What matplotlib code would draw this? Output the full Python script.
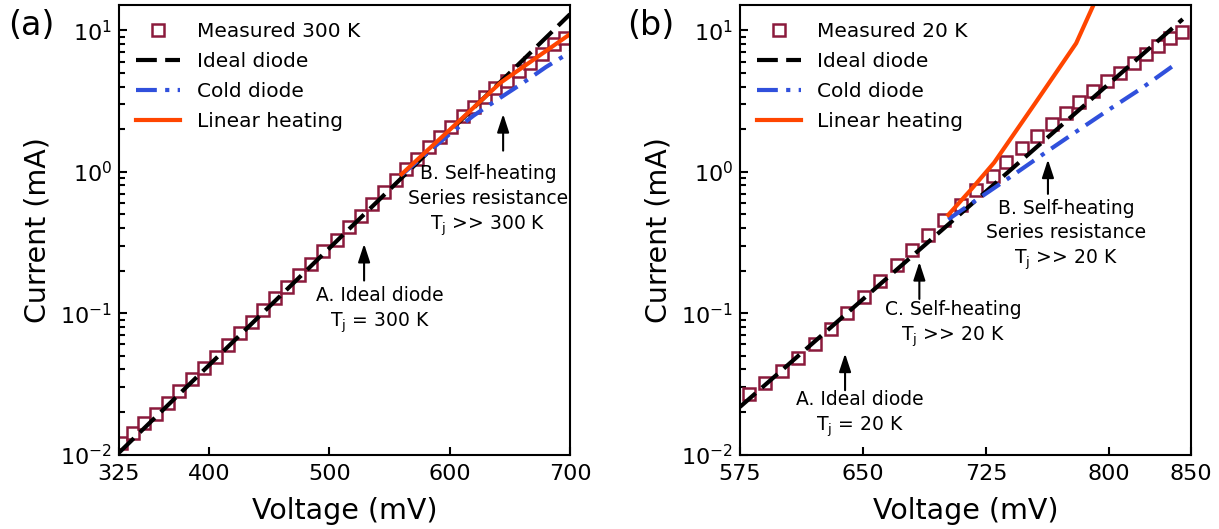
import numpy as np
import matplotlib.pyplot as plt

# ---- (a) 300 K ----
v_meas_300 = [327, 337, 346, 356, 366, 375, 386, 396, 406, 416, 426, 436, 445,
              455, 465, 475, 485, 495, 506, 516, 526, 535, 545, 555, 564, 573,
              583, 592, 601, 611, 620, 629, 638, 648, 658, 667, 677, 687, 696]
i_meas_300 = [0.0121, 0.0141, 0.0166, 0.0195, 0.0232, 0.0281, 0.0340, 0.0406,
              0.0491, 0.0593, 0.0718, 0.0867, 0.105, 0.127, 0.153, 0.185, 0.224,
              0.274, 0.330, 0.406, 0.490, 0.593, 0.724, 0.871, 1.04, 1.24, 1.49,
              1.76, 2.08, 2.47, 2.89, 3.37, 3.89, 4.40, 5.16, 5.92, 6.78, 7.98, 8.89]
v_ideal_300 = [325, 700]
i_ideal_300 = [0.0103, 13.0]
v_cold_300 = [560, 580, 600, 620, 640, 660, 680, 700]
i_cold_300 = [0.95, 1.33, 1.85, 2.5, 3.25, 4.2, 5.5, 7.0]
v_heat_300 = [560, 580, 600, 620, 642, 660, 680, 700]
i_heat_300 = [0.96, 1.38, 1.98, 2.85, 4.25, 5.43, 7.14, 9.4]

# ---- (b) 20 K ----
v_meas_20 = [580.5, 590.5, 600.5, 610.5, 620.5, 630.5, 640.5, 650.5, 660.5, 670.5,
             680, 689.5, 699.5, 709.5, 719, 729, 737.5, 747, 756, 765, 774, 782,
             790.5, 799, 807, 815, 822.5, 830, 837.5, 844.5]
i_meas_20 = [0.0266, 0.0318, 0.0388, 0.0482, 0.0609, 0.0778, 0.100, 0.130, 0.168,
             0.219, 0.281, 0.358, 0.457, 0.586, 0.744, 0.94, 1.165, 1.46, 1.80,
             2.17, 2.62, 3.12, 3.74, 4.39, 5.03, 5.91, 6.78, 7.76, 8.79, 9.80]
v_ideal_20 = [575, 845]
i_ideal_20 = [0.0217, 12.0]
v_cold_20 = [702, 720, 740, 763, 780, 800, 820, 839]
i_cold_20 = [0.46, 0.64, 0.92, 1.41, 1.92, 2.75, 3.9, 5.6]
v_heat_20 = [702, 716, 730, 755, 780, 791]
i_heat_20 = [0.495, 0.75, 1.16, 3.05, 8.1, 15.5]

xticks_300 = [325, 400, 500, 600, 700]
xticks_20 = [575, 650, 725, 800, 850]

meas_color = '#8b1a3c'
cold_color = '#3050dc'
heat_color = '#ff4500'


def draw_panel(ax, v_m, i_m, v_i, i_i, v_c, i_c, v_h, i_h, temp, xlim, xticks):
    ax.plot(v_m, i_m, ls='none', marker='s', ms=8.5, mfc='white', mec=meas_color,
            mew=1.8, label='Measured %s K' % temp)
    ax.plot(v_i, i_i, color='k', lw=3, dashes=(5, 2), label='Ideal diode')
    ax.plot(v_c, i_c, color=cold_color, lw=3, dashes=(5, 2, 1, 2), label='Cold diode')
    ax.plot(v_h, i_h, color=heat_color, lw=3, label='Linear heating')
    ax.set_yscale('log')
    ax.set_xlim(*xlim)
    ax.set_ylim(0.01, 15.1)
    ax.set_xticks(xticks)
    ax.tick_params(which='both', direction='in', width=1.5, labelsize=16)
    ax.tick_params(which='major', length=6)
    ax.tick_params(which='minor', length=4)
    ax.tick_params(axis='x', pad=7)
    ax.tick_params(axis='y', pad=5)
    for sp in ax.spines.values():
        sp.set_linewidth(1.5)
    ax.set_xlabel('Voltage (mV)', fontsize=20.5)
    ax.set_ylabel('Current (mA)', fontsize=20.5)
    ax.xaxis.set_label_coords(0.5, -0.095)
    ax.yaxis.set_label_coords(-0.15, 0.5)
    ax.legend(loc='upper left', frameon=False, fontsize=14.5, borderaxespad=0.45,
              handlelength=2.2, handletextpad=0.8, labelspacing=0.55)


def note(ax, text, xy_text, head, tail):
    ax.text(xy_text[0], xy_text[1], text, ha='center', va='center', fontsize=13.5,
            linespacing=1.35)
    ax.annotate('', xy=head, xytext=tail,
                arrowprops=dict(arrowstyle='-|>,head_length=0.55,head_width=0.18',
                                color='k', lw=1.5, mutation_scale=20,
                                shrinkA=0, shrinkB=0))


fig = plt.figure(figsize=(12.19, 5.29), dpi=100)
ax1 = fig.add_axes([0.0976, 0.1408, 0.37, 0.8497])
ax2 = fig.add_axes([0.607, 0.1408, 0.37, 0.8497])

draw_panel(ax1, v_meas_300, i_meas_300, v_ideal_300, i_ideal_300, v_cold_300,
           i_cold_300, v_heat_300, i_heat_300, 300, (325, 700), xticks_300)
draw_panel(ax2, v_meas_20, i_meas_20, v_ideal_20, i_ideal_20, v_cold_20,
           i_cold_20, v_heat_20, i_heat_20, 20, (575, 850), xticks_20)

note(ax1, 'B. Self-heating\nSeries resistance\n$\\mathrm{T_j}$ >> 300 K',
     (632, 0.62), (644.4, 2.56), (644.4, 1.41))
note(ax1, 'A. Ideal diode\n$\\mathrm{T_j}$ = 300 K',
     (541.6, 0.104), (528.8, 0.309), (528.8, 0.170))

note(ax2, 'B. Self-heating\nSeries resistance\n$\\mathrm{T_j}$ >> 20 K',
     (773.9, 0.355), (762.8, 1.22), (762.8, 0.697))
note(ax2, 'C. Self-heating\n$\\mathrm{T_j}$ >> 20 K',
     (705, 0.083), (684.4, 0.23), (684.4, 0.126))
note(ax2, 'A. Ideal diode\n$\\mathrm{T_j}$ = 20 K',
     (648.1, 0.0193), (639.1, 0.0518), (639.1, 0.0285))

fig.text(0.0254, 0.951, '(a)', fontsize=24, ha='center', va='center')
fig.text(0.534, 0.951, '(b)', fontsize=24, ha='center', va='center')

fig.savefig('out.png', dpi=100)
